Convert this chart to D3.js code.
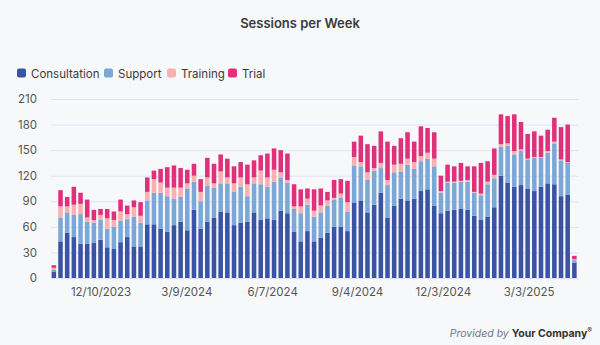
<!DOCTYPE html>
<html>
<head>
<meta charset="utf-8">
<script src="https://cdn.jsdelivr.net/npm/d3@7"></script>
<style>
  html, body { margin: 0; padding: 0; background: #f7f8fa; }
  svg { display: block; font-family: Inter, "Open Sans", sans-serif; }
</style>
</head>
<body>
<svg id="chart" width="600" height="345"></svg>
<script>
const weeks = [
  "2023-10-22","2023-10-29","2023-11-05","2023-11-12","2023-11-19","2023-11-26","2023-12-03","2023-12-10","2023-12-17","2023-12-24","2023-12-31",
  "2024-01-07","2024-01-14","2024-01-21","2024-01-28","2024-02-04","2024-02-11","2024-02-18","2024-02-25","2024-03-03","2024-03-10","2024-03-17","2024-03-24","2024-03-31",
  "2024-04-07","2024-04-14","2024-04-21","2024-04-28","2024-05-05","2024-05-12","2024-05-19","2024-05-26","2024-06-02","2024-06-09","2024-06-16","2024-06-23","2024-06-30",
  "2024-07-07","2024-07-14","2024-07-21","2024-07-28","2024-08-04","2024-08-11","2024-08-18","2024-08-25","2024-09-01","2024-09-08","2024-09-15","2024-09-22","2024-09-29",
  "2024-10-06","2024-10-13","2024-10-20","2024-10-27","2024-11-03","2024-11-10","2024-11-17","2024-11-24","2024-12-01","2024-12-08","2024-12-15","2024-12-22","2024-12-29",
  "2025-01-05","2025-01-12","2025-01-19","2025-01-26","2025-02-02","2025-02-09","2025-02-16","2025-02-23","2025-03-02","2025-03-09","2025-03-16","2025-03-23","2025-03-30",
  "2025-04-06","2025-04-13","2025-04-20"
];
const consultation = [7,43,53,48,40,40,41,45,36,34,42,48,37,37,63,63,58,54,62,66,56,80,58,66,71,78,77,62,65,66,77,68,70,68,79,76,54,43,55,43,47,53,60,60,55,88,91,77,86,100,71,85,93,91,93,102,104,85,76,79,80,81,80,73,68,72,83,120,112,107,109,105,102,107,111,110,96,98,18];
const support      = [3,28,24,26,35,26,24,23,22,26,25,21,35,28,28,37,42,42,31,29,49,33,32,42,35,33,34,39,42,30,34,42,37,45,39,36,27,33,31,29,30,32,32,34,23,44,40,38,40,29,38,39,32,42,35,35,36,46,24,33,32,32,33,27,29,38,34,34,43,38,40,34,39,34,36,48,42,37,3];
const training     = [2,13,7,12,12,5,3,6,12,8,11,6,11,8,10,16,12,10,13,11,6,7,11,10,5,14,7,10,11,14,7,16,11,14,6,3,3,8,7,7,8,6,2,5,11,10,5,9,3,6,6,9,9,7,8,6,7,9,2,1,1,1,2,1,2,3,4,3,3,4,2,1,1,1,2,2,1,1,1];
const trial        = [3,19,11,21,13,21,12,7,11,10,14,10,8,16,17,10,16,24,26,23,16,14,15,23,23,20,22,20,18,23,20,18,28,25,26,31,26,20,12,25,20,10,21,17,25,18,31,33,26,37,45,22,30,31,24,35,29,31,18,20,18,21,16,30,36,24,31,35,32,43,32,29,30,25,25,28,38,44,4];
const seriesNames  = ["Consultation","Support","Training","Trial"];
const seriesColors = ["#3a53a4","#7ca8d8","#f8b0b0","#e0307a"];
const yTicks = [0,30,60,90,120,150,180,210];
const xTickDates = ["2023-12-10","2024-03-09","2024-06-07","2024-09-04","2024-12-03","2025-03-03"];

(function () {
const parse = d3.timeParse("%Y-%m-%d");
const rows = weeks.map((w, i) => ({
  date: parse(w),
  Consultation: consultation[i], Support: support[i], Training: training[i], Trial: trial[i]
}));

const svg = d3.select("#chart");
const W = 600, H = 345;
const pLeft = 51, pRight = 578, pTop = 99, pBottom = 278;

svg.append("rect").attr("width", W).attr("height", H).attr("fill", "#f7f8fa");

const first = rows[0].date, last = rows[rows.length - 1].date;
const x = d3.scaleTime()
  .domain([d3.timeHour.offset(first, -84), d3.timeHour.offset(last, 84)])
  .range([pLeft - 0.5, pRight - 0.3]);
const y = d3.scaleLinear().domain([0, 210]).range([pBottom, pTop]);
const pitch = x(d3.timeDay.offset(first, 7)) - x(first);
const bw = pitch * 0.68;

// title
svg.append("text").attr("x", 300).attr("y", 28).attr("text-anchor", "middle")
  .attr("font-size", 13).attr("font-weight", 600).attr("fill", "#3a3a3a")
  .text("Sessions per Week");

// legend
const legendX = [17, 104, 167, 228];
const lg = svg.append("g");
seriesNames.forEach((n, i) => {
  lg.append("rect").attr("x", legendX[i]).attr("y", 68.5).attr("width", 9).attr("height", 9)
    .attr("rx", 2).attr("fill", seriesColors[i]);
  lg.append("text").attr("x", legendX[i] + 14).attr("y", 77.5).attr("font-size", 11.5)
    .attr("fill", "#3a3a3a").text(n);
});

// gridlines + y axis
const yAxis = d3.axisLeft(y).tickValues(yTicks).tickSize(-(pRight - pLeft)).tickPadding(14);
const gy = svg.append("g").attr("transform", `translate(${pLeft},0)`).call(yAxis);
gy.select(".domain").remove();
gy.selectAll(".tick line").attr("stroke", "#dfe1f6").attr("stroke-width", 1);
gy.selectAll(".tick text").attr("font-size", 11.5).attr("fill", "#555").attr("font-family", "Inter, sans-serif");

// bars
const stack = d3.stack().keys(seriesNames);
const layers = stack(rows);
svg.append("g").selectAll("g").data(layers).join("g")
  .attr("fill", (d, i) => seriesColors[i])
  .selectAll("rect").data(d => d).join("rect")
  .attr("x", d => x(d.data.date) - bw / 2)
  .attr("width", bw)
  .attr("y", d => y(d[1]))
  .attr("height", d => Math.max(0, y(d[0]) - y(d[1])));

// x axis
const fmt = d => `${d.getMonth() + 1}/${d.getDate()}/${d.getFullYear()}`;
const xAxis = d3.axisBottom(x).tickValues(xTickDates.map(parse)).tickFormat(fmt).tickSize(0).tickPadding(10);
const gx = svg.append("g").attr("transform", `translate(0,${pBottom})`).call(xAxis);
gx.select(".domain").remove();
gx.selectAll(".tick text").attr("font-size", 11.5).attr("fill", "#555").attr("font-family", "Inter, sans-serif");

// credit
const cr = svg.append("text").attr("x", 592).attr("y", 337).attr("text-anchor", "end").attr("font-size", 10.5);
cr.append("tspan").attr("font-style", "italic").attr("fill", "#777").text("Provided by ");
cr.append("tspan").attr("font-weight", 700).attr("fill", "#333").text("Your Company");
cr.append("tspan").attr("font-size", 7).attr("dy", -4).attr("fill", "#333").text("®");
})();
</script>
</body>
</html>
